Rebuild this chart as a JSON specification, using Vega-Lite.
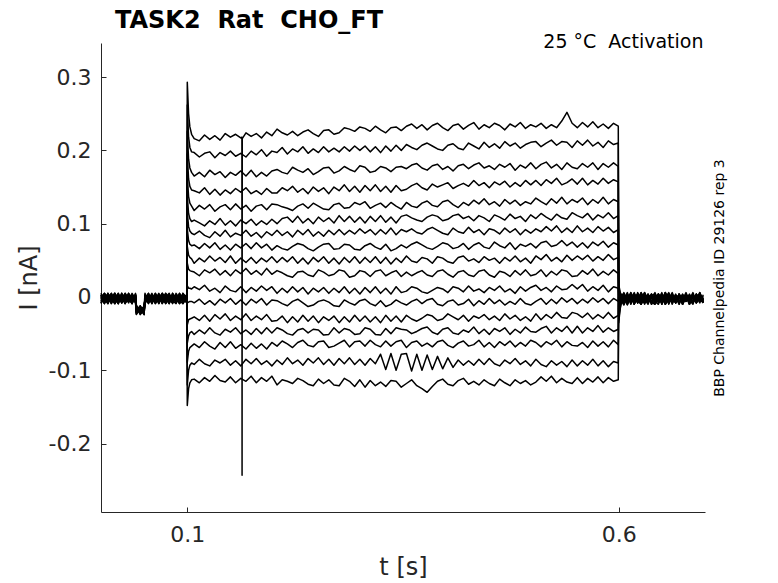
{
  "$schema": "https://vega.github.io/schema/vega-lite/v6.json",
  "width": 604,
  "height": 469,
  "autosize": {"type": "none"},
  "padding": {"left": 101, "top": 43, "right": 73, "bottom": 71},
  "config": {
    "view": {"stroke": null},
    "font": "DejaVu Sans",
    "axis": {"grid": false, "labelFont": "DejaVu Sans", "titleFont": "DejaVu Sans"}
  },
  "title": {
    "text": "TASK2 \u00a0Rat \u00a0CHO_FT",
    "anchor": "start",
    "frame": "group",
    "dx": 14,
    "fontSize": 24,
    "fontWeight": "bold",
    "color": "#000000",
    "baseline": "alphabetic",
    "offset": -20
  },
  "layer": [
    {
      "data": {
        "values": [
          {"t":0,"a":0.003,"b":-0.005,"c":0,"d":-0.008,"e":0.002,"f":-0.003,"g":0.005,"h":-0.009,"i":-0.002,"j":0,"k":-0.006,"l":0.003,"m":-0.005,"n":0.002,"o":-0.008,"p":-0.002,"q":0},
          {"t":0.004,"a":-0.006,"b":0.002,"c":-0.009,"d":0.003,"e":-0.003,"f":0.005,"g":-0.008,"h":0,"i":0.003,"j":-0.005,"k":0.002,"l":-0.008,"m":0,"n":-0.006,"o":0.003,"p":-0.009,"q":0.005},
          {"t":0.008,"a":0.002,"b":-0.008,"c":0.005,"d":-0.002,"e":-0.009,"f":0,"g":0.002,"h":-0.005,"i":-0.008,"j":0.003,"k":-0.003,"l":0,"m":-0.009,"n":0.005,"o":-0.002,"p":0.003,"q":-0.006},
          {"t":0.012,"a":-0.009,"b":0.003,"c":-0.003,"d":0.005,"e":0,"f":-0.008,"g":-0.003,"h":0.003,"i":0.002,"j":-0.009,"k":0.005,"l":-0.005,"m":0.003,"n":-0.003,"o":0,"p":-0.006,"q":0.002},
          {"t":0.016,"a":0.005,"b":-0.002,"c":0.002,"d":-0.009,"e":-0.005,"f":0.003,"g":-0.009,"h":-0.006,"i":-0.003,"j":0.002,"k":-0.008,"l":0.005,"m":-0.002,"n":-0.009,"o":0.005,"p":0,"q":-0.005},
          {"t":0.02,"a":-0.003,"b":-0.009,"c":-0.006,"d":0,"e":0.005,"f":-0.005,"g":0.003,"h":0.002,"i":-0.009,"j":-0.003,"k":0,"l":-0.009,"m":0.005,"n":0,"o":-0.006,"p":0.003,"q":-0.002},
          {"t":0.024,"a":0,"b":0.005,"c":0.003,"d":-0.005,"e":-0.008,"f":0.002,"g":-0.002,"h":-0.008,"i":0.005,"j":-0.006,"k":0.003,"l":0.002,"m":-0.006,"n":-0.005,"o":0.002,"p":-0.008,"q":0.003},
          {"t":0.028,"a":-0.008,"b":-0.003,"c":-0.008,"d":0.003,"e":0.002,"f":-0.009,"g":0.005,"h":-0.003,"i":-0.005,"j":0.005,"k":-0.009,"l":-0.003,"m":0,"n":0.003,"o":-0.009,"p":0.002,"q":-0.008},
          {"t":0.032,"a":0.003,"b":0,"c":0.002,"d":-0.006,"e":-0.003,"f":0.005,"g":-0.006,"h":0.005,"i":0,"j":-0.002,"k":0.002,"l":-0.006,"m":-0.008,"n":-0.002,"o":0.003,"p":-0.005,"q":0},
          {"t":0.036,"a":-0.005,"b":-0.006,"c":-0.005,"d":0.002,"e":-0.009,"f":-0.002,"g":0,"h":-0.009,"i":-0.006,"j":0.003,"k":-0.005,"l":0.003,"m":0.002,"n":-0.008,"o":-0.005,"p":0.005,"q":-0.009},
          {"t":0.04,"a":0.002,"b":0.003,"c":0,"d":-0.008,"e":0.003,"f":-0.006,"g":-0.005,"h":0.002,"i":0.003,"j":-0.008,"k":0,"l":-0.005,"m":-0.003,"n":0.005,"o":0,"p":-0.003,"q":0.003},
          {"t":0.041,"a":-0.012,"b":-0.02,"c":-0.015,"d":-0.023,"e":-0.011,"f":-0.018,"g":-0.021,"h":-0.014,"i":-0.024,"j":-0.017,"k":-0.012,"l":-0.02,"m":-0.015,"n":-0.023,"o":-0.014,"p":-0.018,"q":-0.021},
          {"t":0.0455,"a":-0.02,"b":-0.014,"c":-0.023,"d":-0.015,"e":-0.021,"f":-0.012,"g":-0.017,"h":-0.024,"i":-0.014,"j":-0.02,"k":-0.023,"l":-0.015,"m":-0.018,"n":-0.012,"o":-0.021,"p":-0.017,"q":-0.014},
          {"t":0.05,"a":-0.015,"b":-0.023,"c":-0.012,"d":-0.02,"e":-0.017,"f":-0.024,"g":-0.014,"h":-0.018,"i":-0.021,"j":-0.012,"k":-0.017,"l":-0.023,"m":-0.014,"n":-0.02,"o":-0.015,"p":-0.024,"q":-0.018},
          {"t":0.051,"a":-0.003,"b":0.002,"c":-0.006,"d":0,"e":-0.008,"f":0.003,"g":-0.002,"h":-0.005,"i":0.002,"j":-0.009,"k":0,"l":-0.003,"m":0.005,"n":-0.006,"o":-0.002,"p":0.002,"q":-0.008},
          {"t":0.055,"a":0.005,"b":-0.008,"c":0.002,"d":-0.005,"e":0,"f":-0.003,"g":-0.009,"h":0.003,"i":-0.006,"j":0.002,"k":-0.005,"l":0.003,"m":-0.008,"n":0,"o":0.005,"p":-0.006,"q":0},
          {"t":0.059,"a":-0.006,"b":0,"c":-0.005,"d":0.003,"e":-0.009,"f":0.005,"g":0.002,"h":-0.008,"i":0,"j":-0.005,"k":0.003,"l":-0.009,"m":0,"n":-0.003,"o":-0.008,"p":0.003,"q":-0.003},
          {"t":0.063,"a":0.002,"b":-0.005,"c":0.003,"d":-0.009,"e":0.002,"f":-0.006,"g":-0.003,"h":0,"i":-0.008,"j":0.005,"k":-0.008,"l":0.002,"m":-0.005,"n":0.003,"o":0,"p":-0.009,"q":0.005},
          {"t":0.067,"a":-0.009,"b":0.003,"c":-0.008,"d":0,"e":-0.005,"f":0.002,"g":0.005,"h":-0.006,"i":0.003,"j":-0.003,"k":0.002,"l":-0.005,"m":0.003,"n":-0.009,"o":-0.003,"p":0,"q":-0.006},
          {"t":0.071,"a":0.003,"b":-0.006,"c":0,"d":-0.003,"e":0.005,"f":-0.009,"g":-0.002,"h":0.003,"i":-0.005,"j":0,"k":-0.009,"l":0.005,"m":-0.008,"n":0.002,"o":0.005,"p":-0.005,"q":0.002},
          {"t":0.075,"a":-0.005,"b":0.002,"c":-0.009,"d":0.005,"e":-0.002,"f":0,"g":-0.008,"h":-0.003,"i":0.005,"j":-0.008,"k":0.003,"l":-0.002,"m":0,"n":-0.006,"o":-0.008,"p":0.003,"q":-0.009},
          {"t":0.079,"a":0,"b":-0.009,"c":0.003,"d":-0.006,"e":0.003,"f":-0.005,"g":0.002,"h":-0.009,"i":-0.002,"j":0.003,"k":-0.005,"l":-0.008,"m":0.005,"n":0,"o":0.002,"p":-0.008,"q":0.003},
          {"t":0.083,"a":-0.008,"b":0.005,"c":-0.003,"d":0.002,"e":-0.008,"f":0.003,"g":-0.006,"h":0.002,"i":-0.009,"j":-0.002,"k":0,"l":0.003,"m":-0.006,"n":-0.005,"o":-0.005,"p":0.005,"q":-0.003},
          {"t":0.087,"a":0.005,"b":-0.003,"c":0.002,"d":-0.008,"e":0,"f":-0.008,"g":0.003,"h":-0.005,"i":0.003,"j":-0.006,"k":-0.006,"l":-0.003,"m":0.002,"n":0.003,"o":-0.009,"p":-0.002,"q":0},
          {"t":0.091,"a":-0.002,"b":-0.008,"c":-0.006,"d":0.003,"e":-0.006,"f":0.005,"g":-0.009,"h":0,"i":-0.003,"j":0.005,"k":0.003,"l":-0.009,"m":-0.005,"n":-0.008,"o":0.003,"p":-0.006,"q":-0.008},
          {"t":0.095,"a":0.002,"b":0,"c":0.005,"d":-0.005,"e":0.003,"f":-0.002,"g":0,"h":-0.006,"i":0.002,"j":-0.009,"k":-0.003,"l":0.002,"m":-0.009,"n":0.002,"o":-0.002,"p":0.003,"q":0.005},
          {"t":0.0995,"a":-0.005,"b":-0.005,"c":-0.002,"d":0,"e":-0.003,"f":-0.006,"g":0.003,"h":0.002,"i":-0.005,"j":0,"k":-0.008,"l":-0.003,"m":0,"n":-0.006,"o":0.002,"p":-0.005,"q":-0.002},
          {"t":0.1,"a":0.293,"b":0.262,"c":0.226,"d":0.195,"e":0.165,"f":0.138,"g":0.116,"h":0.093,"i":0.069,"j":0.046,"k":0.015,"l":-0.008,"m":-0.038,"n":-0.063,"o":-0.089,"p":-0.12,"q":-0.148},
          {"t":0.1015,"a":0.25,"b":0.218,"c":0.188,"d":0.161,"e":0.137,"f":0.114,"g":0.096,"h":0.077,"i":0.057,"j":0.038,"k":0.012,"l":-0.007,"m":-0.031,"n":-0.053,"o":-0.074,"p":-0.1,"q":-0.125},
          {"t":0.103,"a":0.232,"b":0.204,"c":0.176,"d":0.151,"e":0.128,"f":0.107,"g":0.09,"h":0.072,"i":0.054,"j":0.036,"k":0.012,"l":-0.006,"m":-0.03,"n":-0.049,"o":-0.069,"p":-0.093,"q":-0.117},
          {"t":0.105,"a":0.222,"b":0.198,"c":0.17,"d":0.146,"e":0.124,"f":0.103,"g":0.087,"h":0.07,"i":0.052,"j":0.035,"k":0.011,"l":-0.006,"m":-0.029,"n":-0.047,"o":-0.067,"p":-0.09,"q":-0.113},
          {"t":0.108,"a":0.216,"b":0.197,"c":0.165,"d":0.145,"e":0.118,"f":0.105,"g":0.085,"h":0.071,"i":0.046,"j":0.034,"k":0.014,"l":-0.008,"m":-0.027,"n":-0.051,"o":-0.064,"p":-0.092,"q":-0.112},
          {"t":0.114,"a":0.213,"b":0.191,"c":0.17,"d":0.142,"e":0.125,"f":0.101,"g":0.09,"h":0.066,"i":0.053,"j":0.029,"k":0.01,"l":-0.003,"m":-0.032,"n":-0.045,"o":-0.069,"p":-0.085,"q":-0.117},
          {"t":0.12,"a":0.221,"b":0.196,"c":0.164,"d":0.149,"e":0.12,"f":0.097,"g":0.084,"h":0.073,"i":0.048,"j":0.037,"k":0.016,"l":-0.01,"m":-0.025,"n":-0.05,"o":-0.061,"p":-0.091,"q":-0.11},
          {"t":0.126,"a":0.215,"b":0.198,"c":0.173,"d":0.14,"e":0.126,"f":0.104,"g":0.081,"h":0.067,"i":0.056,"j":0.033,"k":0.008,"l":-0.005,"m":-0.033,"n":-0.042,"o":-0.067,"p":-0.094,"q":-0.115},
          {"t":0.132,"a":0.22,"b":0.19,"c":0.167,"d":0.147,"e":0.117,"f":0.099,"g":0.089,"h":0.074,"i":0.049,"j":0.038,"k":0.012,"l":-0.011,"m":-0.024,"n":-0.049,"o":-0.071,"p":-0.086,"q":-0.107},
          {"t":0.138,"a":0.214,"b":0.197,"c":0.171,"d":0.139,"e":0.123,"f":0.107,"g":0.083,"h":0.065,"i":0.054,"j":0.03,"k":0.006,"l":-0.003,"m":-0.03,"n":-0.052,"o":-0.062,"p":-0.09,"q":-0.114},
          {"t":0.144,"a":0.223,"b":0.193,"c":0.163,"d":0.146,"e":0.126,"f":0.098,"g":0.091,"h":0.071,"i":0.047,"j":0.036,"k":0.015,"l":-0.008,"m":-0.023,"n":-0.044,"o":-0.069,"p":-0.085,"q":-0.116},
          {"t":0.15,"a":0.218,"b":0.199,"c":0.17,"d":0.141,"e":0.119,"f":0.104,"g":0.082,"h":0.064,"i":0.056,"j":0.029,"k":0.009,"l":-0.002,"m":-0.032,"n":-0.048,"o":-0.061,"p":-0.093,"q":-0.109},
          {"t":0.156,"a":0.222,"b":0.192,"c":0.166,"d":0.148,"e":0.127,"f":0.097,"g":0.087,"h":0.072,"i":0.046,"j":0.037,"k":0.007,"l":-0.01,"m":-0.026,"n":-0.042,"o":-0.07,"p":-0.087,"q":-0.117},
          {"t":0.162,"a":0.217,"b":0.196,"c":0.172,"d":0.143,"e":0.12,"f":0.105,"g":0.084,"h":0.067,"i":0.053,"j":0.032,"k":0.014,"l":-0.004,"m":-0.031,"n":-0.05,"o":-0.065,"p":-0.094,"q":-0.111},
          {"t":0.1633,"a":0.218},
          {"t":0.1635,"a":-0.243},
          {"t":0.1637,"a":0.216},
          {"t":0.168,"a":0.224,"b":0.191,"c":0.165,"d":0.149,"e":0.125,"f":0.1,"g":0.091,"h":0.073,"i":0.047,"j":0.039,"k":0.006,"l":-0.011,"m":-0.023,"n":-0.045,"o":-0.071,"p":-0.085,"q":-0.115},
          {"t":0.174,"a":0.219,"b":0.199,"c":0.173,"d":0.141,"e":0.117,"f":0.106,"g":0.083,"h":0.066,"i":0.054,"j":0.031,"k":0.013,"l":-0.003,"m":-0.032,"n":-0.051,"o":-0.063,"p":-0.091,"q":-0.108},
          {"t":0.18,"a":0.223,"b":0.194,"c":0.164,"d":0.145,"e":0.124,"f":0.098,"g":0.088,"h":0.074,"i":0.046,"j":0.036,"k":0.008,"l":-0.008,"m":-0.026,"n":-0.043,"o":-0.07,"p":-0.084,"q":-0.117},
          {"t":0.186,"a":0.217,"b":0.201,"c":0.17,"d":0.14,"e":0.126,"f":0.104,"g":0.081,"h":0.067,"i":0.053,"j":0.03,"k":0.015,"l":-0.002,"m":-0.031,"n":-0.05,"o":-0.064,"p":-0.092,"q":-0.11},
          {"t":0.192,"a":0.225,"b":0.192,"c":0.165,"d":0.148,"e":0.119,"f":0.099,"g":0.089,"h":0.072,"i":0.048,"j":0.039,"k":0.009,"l":-0.011,"m":-0.024,"n":-0.042,"o":-0.071,"p":-0.087,"q":-0.115},
          {"t":0.198,"a":0.22,"b":0.199,"c":0.172,"d":0.142,"e":0.127,"f":0.106,"g":0.084,"h":0.064,"i":0.055,"j":0.031,"k":0.014,"l":-0.004,"m":-0.033,"n":-0.049,"o":-0.062,"p":-0.094,"q":-0.108},
          {"t":0.204,"a":0.229,"b":0.197,"c":0.174,"d":0.142,"e":0.126,"f":0.1,"g":0.091,"h":0.07,"i":0.047,"j":0.036,"k":0.005,"l":-0.005,"m":-0.032,"n":-0.042,"o":-0.067,"p":-0.086,"q":-0.12},
          {"t":0.21,"a":0.224,"b":0.204,"c":0.17,"d":0.149,"e":0.123,"f":0.107,"g":0.084,"h":0.066,"i":0.054,"j":0.033,"k":0.012,"l":-0.009,"m":-0.026,"n":-0.045,"o":-0.06,"p":-0.092,"q":-0.113},
          {"t":0.216,"a":0.221,"b":0.195,"c":0.168,"d":0.145,"e":0.121,"f":0.109,"g":0.089,"h":0.064,"i":0.048,"j":0.029,"k":0.006,"l":-0.012,"m":-0.035,"n":-0.05,"o":-0.064,"p":-0.083,"q":-0.115},
          {"t":0.222,"a":0.226,"b":0.202,"c":0.177,"d":0.151,"e":0.118,"f":0.102,"g":0.082,"h":0.069,"i":0.055,"j":0.027,"k":0.014,"l":-0.006,"m":-0.027,"n":-0.052,"o":-0.069,"p":-0.091,"q":-0.118},
          {"t":0.228,"a":0.22,"b":0.198,"c":0.173,"d":0.143,"e":0.124,"f":0.11,"g":0.091,"h":0.073,"i":0.046,"j":0.034,"k":0.007,"l":-0.003,"m":-0.034,"n":-0.045,"o":-0.062,"p":-0.086,"q":-0.111},
          {"t":0.234,"a":0.225,"b":0.205,"c":0.17,"d":0.148,"e":0.127,"f":0.101,"g":0.085,"h":0.071,"i":0.053,"j":0.035,"k":0.013,"l":-0.008,"m":-0.025,"n":-0.043,"o":-0.059,"p":-0.093,"q":-0.114},
          {"t":0.24,"a":0.228,"b":0.196,"c":0.175,"d":0.141,"e":0.121,"f":0.107,"g":0.092,"h":0.066,"i":0.045,"j":0.03,"k":0.004,"l":-0.013,"m":-0.033,"n":-0.049,"o":-0.066,"p":-0.084,"q":-0.119},
          {"t":0.246,"a":0.223,"b":0.202,"c":0.167,"d":0.15,"e":0.128,"f":0.1,"g":0.083,"h":0.063,"i":0.054,"j":0.028,"k":0.012,"l":-0.011,"m":-0.026,"n":-0.044,"o":-0.068,"p":-0.09,"q":-0.121},
          {"t":0.252,"a":0.219,"b":0.197,"c":0.171,"d":0.144,"e":0.124,"f":0.109,"g":0.089,"h":0.068,"i":0.048,"j":0.037,"k":0.007,"l":-0.006,"m":-0.035,"n":-0.045,"o":-0.061,"p":-0.083,"q":-0.112},
          {"t":0.258,"a":0.227,"b":0.205,"c":0.176,"d":0.149,"e":0.12,"f":0.103,"g":0.083,"h":0.072,"i":0.055,"j":0.034,"k":0.013,"l":-0.004,"m":-0.027,"n":-0.052,"o":-0.06,"p":-0.092,"q":-0.118},
          {"t":0.264,"a":0.228,"b":0.198,"c":0.177,"d":0.141,"e":0.119,"f":0.108,"g":0.091,"h":0.073,"i":0.046,"j":0.029,"k":0.005,"l":-0.007,"m":-0.032,"n":-0.051,"o":-0.069,"p":-0.085,"q":-0.113},
          {"t":0.27,"a":0.222,"b":0.203,"c":0.169,"d":0.15,"e":0.126,"f":0.101,"g":0.085,"h":0.065,"i":0.053,"j":0.031,"k":0.012,"l":-0.012,"m":-0.026,"n":-0.042,"o":-0.067,"p":-0.093,"q":-0.12},
          {"t":0.276,"a":0.224,"b":0.198,"c":0.172,"d":0.145,"e":0.128,"f":0.111,"g":0.092,"h":0.066,"i":0.045,"j":0.037,"k":0.006,"l":-0.013,"m":-0.035,"n":-0.049,"o":-0.063,"p":-0.084,"q":-0.121},
          {"t":0.282,"a":0.231,"b":0.205,"c":0.178,"d":0.153,"e":0.121,"f":0.103,"g":0.085,"h":0.072,"i":0.054,"j":0.035,"k":0.014,"l":-0.004,"m":-0.027,"n":-0.043,"o":-0.059,"p":-0.091,"q":-0.111},
          {"t":0.288,"a":0.229,"b":0.199,"c":0.174,"d":0.144,"e":0.122,"f":0.11,"g":0.091,"h":0.071,"i":0.047,"j":0.027,"k":0.005,"l":-0.008,"m":-0.034,"n":-0.045,"o":-0.068,"p":-0.083,"q":-0.115},
          {"t":0.294,"a":0.226,"b":0.206,"c":0.171,"d":0.151,"e":0.129,"f":0.102,"g":0.086,"h":0.065,"i":0.055,"j":0.029,"k":0.012,"l":-0.011,"m":-0.025,"n":-0.051,"o":-0.061,"p":-0.092,"q":-0.122},
          {"t":0.3,"a":0.232,"b":0.2,"c":0.179,"d":0.143,"e":0.126,"f":0.109,"g":0.093,"h":0.064,"i":0.046,"j":0.036,"k":0.004,"l":-0.005,"m":-0.033,"n":-0.05,"o":-0.06,"p":-0.085,"q":-0.113},
          {"t":0.306,"a":0.23,"b":0.206,"c":0.177,"d":0.152,"e":0.13,"f":0.101,"g":0.087,"h":0.07,"i":0.054,"j":0.034,"k":0.013,"l":-0.003,"m":-0.026,"n":-0.042,"o":-0.067,"p":-0.093,"q":-0.123},
          {"t":0.312,"a":0.226,"b":0.198,"c":0.17,"d":0.145,"e":0.121,"f":0.11,"g":0.092,"h":0.073,"i":0.047,"j":0.028,"k":0.006,"l":-0.009,"m":-0.034,"n":-0.044,"o":-0.059,"p":-0.084,"q":-0.114},
          {"t":0.318,"a":0.233,"b":0.205,"c":0.172,"d":0.153,"e":0.125,"f":0.103,"g":0.085,"h":0.068,"i":0.055,"j":0.035,"k":0.014,"l":-0.012,"m":-0.027,"n":-0.051,"o":-0.065,"p":-0.091,"q":-0.121},
          {"t":0.324,"a":0.228,"b":0.197,"c":0.178,"d":0.144,"e":0.128,"f":0.111,"g":0.092,"h":0.065,"i":0.046,"j":0.037,"k":0.005,"l":-0.005,"m":-0.035,"n":-0.052,"o":-0.068,"p":-0.078,"q":-0.116},
          {"t":0.33,"a":0.224,"b":0.206,"c":0.176,"d":0.151,"e":0.122,"f":0.102,"g":0.086,"h":0.072,"i":0.054,"j":0.029,"k":0.012,"l":-0.013,"m":-0.025,"n":-0.043,"o":-0.06,"p":-0.099,"q":-0.122},
          {"t":0.336,"a":0.231,"b":0.199,"c":0.171,"d":0.143,"e":0.129,"f":0.109,"g":0.094,"h":0.063,"i":0.045,"j":0.033,"k":0.004,"l":-0.01,"m":-0.033,"n":-0.05,"o":-0.067,"p":-0.077,"q":-0.114},
          {"t":0.342,"a":0.232,"b":0.207,"c":0.177,"d":0.152,"e":0.124,"f":0.101,"g":0.085,"h":0.066,"i":0.053,"j":0.036,"k":0.014,"l":-0.004,"m":-0.026,"n":-0.042,"o":-0.061,"p":-0.1,"q":-0.115},
          {"t":0.348,"a":0.227,"b":0.2,"c":0.178,"d":0.145,"e":0.12,"f":0.11,"g":0.092,"h":0.071,"i":0.047,"j":0.028,"k":0.006,"l":-0.008,"m":-0.034,"n":-0.044,"o":-0.059,"p":-0.078,"q":-0.123},
          {"t":0.354,"a":0.233,"b":0.208,"c":0.175,"d":0.147,"e":0.129,"f":0.112,"g":0.089,"h":0.067,"i":0.056,"j":0.034,"k":0.008,"l":-0.011,"m":-0.025,"n":-0.045,"o":-0.069,"p":-0.077,"q":-0.118},
          {"t":0.36,"a":0.236,"b":0.204,"c":0.18,"d":0.152,"e":0.124,"f":0.108,"g":0.093,"h":0.072,"i":0.049,"j":0.029,"k":0.014,"l":-0.006,"m":-0.03,"n":-0.05,"o":-0.062,"p":-0.101,"q":-0.113},
          {"t":0.366,"a":0.23,"b":0.201,"c":0.182,"d":0.155,"e":0.122,"f":0.105,"g":0.088,"h":0.075,"i":0.047,"j":0.033,"k":0.012,"l":-0.003,"m":-0.033,"n":-0.047,"o":-0.06,"p":-0.078,"q":-0.121},
          {"t":0.372,"a":0.235,"b":0.207,"c":0.176,"d":0.149,"e":0.128,"f":0.103,"g":0.086,"h":0.071,"i":0.054,"j":0.036,"k":0.007,"l":-0.009,"m":-0.029,"n":-0.043,"o":-0.067,"p":-0.1,"q":-0.125},
          {"t":0.378,"a":0.228,"b":0.21,"c":0.173,"d":0.146,"e":0.131,"f":0.109,"g":0.092,"h":0.067,"i":0.052,"j":0.03,"k":0.005,"l":-0.004,"m":-0.024,"n":-0.041,"o":-0.063,"p":-0.079,"q":-0.13},
          {"t":0.384,"a":0.234,"b":0.206,"c":0.179,"d":0.154,"e":0.125,"f":0.112,"g":0.095,"h":0.065,"i":0.046,"j":0.028,"k":0.009,"l":-0.002,"m":-0.026,"n":-0.048,"o":-0.068,"p":-0.099,"q":-0.122},
          {"t":0.39,"a":0.237,"b":0.202,"c":0.181,"d":0.15,"e":0.123,"f":0.11,"g":0.091,"h":0.069,"i":0.055,"j":0.035,"k":0.013,"l":-0.01,"m":-0.032,"n":-0.051,"o":-0.061,"p":-0.081,"q":-0.115},
          {"t":0.396,"a":0.231,"b":0.2,"c":0.174,"d":0.153,"e":0.13,"f":0.104,"g":0.087,"h":0.074,"i":0.053,"j":0.037,"k":0.011,"l":-0.012,"m":-0.03,"n":-0.044,"o":-0.059,"p":-0.098,"q":-0.112},
          {"t":0.402,"a":0.227,"b":0.207,"c":0.178,"d":0.156,"e":0.132,"f":0.106,"g":0.085,"h":0.072,"i":0.048,"j":0.031,"k":0.006,"l":-0.006,"m":-0.023,"n":-0.042,"o":-0.066,"p":-0.083,"q":-0.119},
          {"t":0.408,"a":0.234,"b":0.209,"c":0.172,"d":0.148,"e":0.126,"f":0.111,"g":0.094,"h":0.066,"i":0.046,"j":0.027,"k":0.014,"l":-0.004,"m":-0.027,"n":-0.049,"o":-0.069,"p":-0.096,"q":-0.121},
          {"t":0.414,"a":0.236,"b":0.203,"c":0.179,"d":0.152,"e":0.122,"f":0.113,"g":0.089,"h":0.068,"i":0.054,"j":0.034,"k":0.012,"l":-0.011,"m":-0.031,"n":-0.051,"o":-0.063,"p":-0.086,"q":-0.114},
          {"t":0.42,"a":0.229,"b":0.201,"c":0.181,"d":0.155,"e":0.129,"f":0.107,"g":0.087,"h":0.073,"i":0.056,"j":0.036,"k":0.007,"l":-0.009,"m":-0.025,"n":-0.045,"o":-0.06,"p":-0.093,"q":-0.111},
          {"t":0.426,"a":0.234,"b":0.21,"c":0.175,"d":0.151,"e":0.125,"f":0.11,"g":0.095,"h":0.065,"i":0.049,"j":0.03,"k":0.015,"l":-0.003,"m":-0.033,"n":-0.048,"o":-0.067,"p":-0.087,"q":-0.119},
          {"t":0.432,"a":0.238,"b":0.206,"c":0.18,"d":0.159,"e":0.132,"f":0.104,"g":0.088,"h":0.071,"i":0.052,"j":0.028,"k":0.008,"l":-0.012,"m":-0.026,"n":-0.041,"o":-0.065,"p":-0.093,"q":-0.115},
          {"t":0.438,"a":0.229,"b":0.202,"c":0.183,"d":0.152,"e":0.127,"f":0.111,"g":0.092,"h":0.074,"i":0.047,"j":0.035,"k":0.011,"l":-0.005,"m":-0.029,"n":-0.05,"o":-0.059,"p":-0.085,"q":-0.12},
          {"t":0.444,"a":0.235,"b":0.211,"c":0.176,"d":0.156,"e":0.134,"f":0.108,"g":0.085,"h":0.068,"i":0.055,"j":0.037,"k":0.006,"l":-0.01,"m":-0.024,"n":-0.044,"o":-0.068,"p":-0.092,"q":-0.113},
          {"t":0.45,"a":0.231,"b":0.204,"c":0.179,"d":0.149,"e":0.126,"f":0.103,"g":0.093,"h":0.066,"i":0.05,"j":0.03,"k":0.013,"l":-0.002,"m":-0.031,"n":-0.051,"o":-0.062,"p":-0.084,"q":-0.118},
          {"t":0.456,"a":0.237,"b":0.209,"c":0.174,"d":0.157,"e":0.13,"f":0.112,"g":0.091,"h":0.075,"i":0.053,"j":0.027,"k":0.009,"l":-0.009,"m":-0.026,"n":-0.043,"o":-0.069,"p":-0.091,"q":-0.121},
          {"t":0.462,"a":0.234,"b":0.203,"c":0.181,"d":0.153,"e":0.124,"f":0.109,"g":0.086,"h":0.07,"i":0.046,"j":0.035,"k":0.015,"l":-0.004,"m":-0.032,"n":-0.047,"o":-0.061,"p":-0.094,"q":-0.112},
          {"t":0.468,"a":0.228,"b":0.212,"c":0.177,"d":0.158,"e":0.133,"f":0.105,"g":0.094,"h":0.067,"i":0.054,"j":0.033,"k":0.007,"l":-0.011,"m":-0.023,"n":-0.042,"o":-0.066,"p":-0.086,"q":-0.117},
          {"t":0.474,"a":0.236,"b":0.206,"c":0.182,"d":0.15,"e":0.127,"f":0.113,"g":0.088,"h":0.074,"i":0.049,"j":0.028,"k":0.011,"l":-0.006,"m":-0.03,"n":-0.051,"o":-0.06,"p":-0.091,"q":-0.121},
          {"t":0.48,"a":0.232,"b":0.21,"c":0.173,"d":0.156,"e":0.132,"f":0.107,"g":0.093,"h":0.065,"i":0.056,"j":0.036,"k":0.005,"l":-0.01,"m":-0.025,"n":-0.044,"o":-0.068,"p":-0.084,"q":-0.113},
          {"t":0.486,"a":0.238,"b":0.203,"c":0.18,"d":0.151,"e":0.125,"f":0.11,"g":0.085,"h":0.072,"i":0.048,"j":0.03,"k":0.014,"l":-0.002,"m":-0.032,"n":-0.049,"o":-0.062,"p":-0.092,"q":-0.118},
          {"t":0.492,"a":0.23,"b":0.208,"c":0.176,"d":0.159,"e":0.13,"f":0.103,"g":0.092,"h":0.069,"i":0.053,"j":0.037,"k":0.008,"l":-0.009,"m":-0.027,"n":-0.041,"o":-0.067,"p":-0.087,"q":-0.114},
          {"t":0.498,"a":0.235,"b":0.211,"c":0.183,"d":0.153,"e":0.127,"f":0.112,"g":0.087,"h":0.073,"i":0.046,"j":0.029,"k":0.013,"l":-0.011,"m":-0.033,"n":-0.047,"o":-0.059,"p":-0.094,"q":-0.12},
          {"t":0.504,"a":0.232,"b":0.212,"c":0.175,"d":0.159,"e":0.135,"f":0.107,"g":0.093,"h":0.067,"i":0.056,"j":0.031,"k":0.016,"l":-0.006,"m":-0.023,"n":-0.048,"o":-0.062,"p":-0.085,"q":-0.116},
          {"t":0.51,"a":0.237,"b":0.205,"c":0.181,"d":0.152,"e":0.13,"f":0.114,"g":0.089,"h":0.074,"i":0.051,"j":0.037,"k":0.009,"l":-0.002,"m":-0.031,"n":-0.043,"o":-0.068,"p":-0.092,"q":-0.109},
          {"t":0.516,"a":0.23,"b":0.21,"c":0.184,"d":0.16,"e":0.126,"f":0.109,"g":0.096,"h":0.076,"i":0.058,"j":0.028,"k":0.013,"l":-0.01,"m":-0.024,"n":-0.04,"o":-0.061,"p":-0.095,"q":-0.115},
          {"t":0.522,"a":0.235,"b":0.214,"c":0.176,"d":0.155,"e":0.134,"f":0.105,"g":0.09,"h":0.069,"i":0.049,"j":0.035,"k":0.007,"l":-0.003,"m":-0.029,"n":-0.049,"o":-0.065,"p":-0.087,"q":-0.108},
          {"t":0.528,"a":0.231,"b":0.207,"c":0.181,"d":0.162,"e":0.128,"f":0.113,"g":0.097,"h":0.071,"i":0.054,"j":0.03,"k":0.015,"l":-0.009,"m":-0.021,"n":-0.042,"o":-0.059,"p":-0.093,"q":-0.117},
          {"t":0.534,"a":0.24,"b":0.212,"c":0.174,"d":0.153,"e":0.136,"f":0.108,"g":0.088,"h":0.077,"i":0.048,"j":0.037,"k":0.01,"l":-0.001,"m":-0.028,"n":-0.047,"o":-0.068,"p":-0.088,"q":-0.111},
          {"t":0.54,"a":0.252,"b":0.211,"c":0.183,"d":0.156,"e":0.127,"f":0.106,"g":0.094,"h":0.07,"i":0.057,"j":0.035,"k":0.011,"l":-0.007,"m":-0.029,"n":-0.04,"o":-0.061,"p":-0.095,"q":-0.116},
          {"t":0.546,"a":0.237,"b":0.204,"c":0.177,"d":0.161,"e":0.133,"f":0.115,"g":0.088,"h":0.075,"i":0.05,"j":0.028,"k":0.017,"l":-0.002,"m":-0.021,"n":-0.049,"o":-0.066,"p":-0.086,"q":-0.118},
          {"t":0.552,"a":0.231,"b":0.213,"c":0.175,"d":0.154,"e":0.129,"f":0.111,"g":0.097,"h":0.068,"i":0.056,"j":0.029,"k":0.011,"l":-0.009,"m":-0.023,"n":-0.04,"o":-0.067,"p":-0.094,"q":-0.11},
          {"t":0.558,"a":0.238,"b":0.207,"c":0.182,"d":0.162,"e":0.135,"f":0.108,"g":0.089,"h":0.074,"i":0.051,"j":0.036,"k":0.017,"l":-0.003,"m":-0.028,"n":-0.049,"o":-0.062,"p":-0.087,"q":-0.118},
          {"t":0.564,"a":0.232,"b":0.214,"c":0.177,"d":0.153,"e":0.126,"f":0.114,"g":0.094,"h":0.067,"i":0.057,"j":0.031,"k":0.008,"l":-0.008,"m":-0.022,"n":-0.042,"o":-0.069,"p":-0.093,"q":-0.111},
          {"t":0.57,"a":0.239,"b":0.206,"c":0.183,"d":0.159,"e":0.133,"f":0.105,"g":0.088,"h":0.075,"i":0.049,"j":0.038,"k":0.014,"l":-0.001,"m":-0.03,"n":-0.047,"o":-0.06,"p":-0.085,"q":-0.116},
          {"t":0.576,"a":0.231,"b":0.211,"c":0.174,"d":0.154,"e":0.128,"f":0.112,"g":0.096,"h":0.07,"i":0.055,"j":0.029,"k":0.009,"l":-0.007,"m":-0.024,"n":-0.039,"o":-0.067,"p":-0.094,"q":-0.109},
          {"t":0.582,"a":0.236,"b":0.204,"c":0.182,"d":0.162,"e":0.136,"f":0.108,"g":0.09,"h":0.076,"i":0.05,"j":0.035,"k":0.016,"l":-0.002,"m":-0.029,"n":-0.048,"o":-0.061,"p":-0.087,"q":-0.117},
          {"t":0.588,"a":0.23,"b":0.213,"c":0.177,"d":0.155,"e":0.127,"f":0.115,"g":0.095,"h":0.068,"i":0.058,"j":0.03,"k":0.007,"l":-0.009,"m":-0.021,"n":-0.042,"o":-0.068,"p":-0.095,"q":-0.11},
          {"t":0.594,"a":0.237,"b":0.208,"c":0.183,"d":0.16,"e":0.133,"f":0.107,"g":0.088,"h":0.074,"i":0.051,"j":0.037,"k":0.014,"l":-0.002,"m":-0.029,"n":-0.047,"o":-0.059,"p":-0.088,"q":-0.115},
          {"t":0.5995,"a":0.233,"b":0.21,"c":0.178,"d":0.157,"e":0.13,"f":0.111,"g":0.092,"h":0.071,"i":0.054,"j":0.032,"k":0.012,"l":-0.006,"m":-0.025,"n":-0.044,"o":-0.065,"p":-0.09,"q":-0.113},
          {"t":0.6,"a":-0.035,"b":-0.031,"c":-0.027,"d":-0.024,"e":-0.02,"f":-0.017,"g":-0.014,"h":-0.011,"i":-0.008,"j":-0.005,"k":-0.002,"l":0.001,"m":0.004,"n":0.007,"o":0.01,"p":0.013,"q":0.017},
          {"t":0.6015,"a":-0.018,"b":-0.016,"c":-0.013,"d":-0.012,"e":-0.01,"f":-0.009,"g":-0.007,"h":-0.006,"i":-0.004,"j":-0.003,"k":-0.001,"l":0,"m":0.002,"n":0.003,"o":0.005,"p":0.006,"q":0.008},
          {"t":0.603,"a":-0.008,"b":-0.006,"c":-0.007,"d":-0.004,"e":-0.005,"f":-0.002,"g":-0.004,"h":-0.001,"i":-0.003,"j":0,"k":-0.002,"l":0.001,"m":-0.001,"n":0.002,"o":0,"p":0.003,"q":0.001},
          {"t":0.606,"a":0.004,"b":-0.008,"c":0.001,"d":-0.006,"e":-0.011,"f":0.003,"g":-0.003,"h":-0.007,"i":0.006,"j":-0.01,"k":0,"l":-0.004,"m":0.003,"n":-0.008,"o":-0.001,"p":0.004,"q":-0.006},
          {"t":0.61,"a":-0.007,"b":0.003,"c":-0.01,"d":0.004,"e":0,"f":-0.008,"g":0.006,"h":-0.001,"i":-0.006,"j":0.001,"k":-0.011,"l":0.003,"m":-0.007,"n":0.001,"o":-0.004,"p":-0.01,"q":0.003},
          {"t":0.614,"a":0.003,"b":-0.004,"c":0.006,"d":-0.01,"e":-0.003,"f":0.001,"g":-0.008,"h":0.004,"i":-0.003,"j":-0.007,"k":0.003,"l":-0.008,"m":0.004,"n":-0.006,"o":0.006,"p":-0.001,"q":-0.008},
          {"t":0.618,"a":-0.01,"b":0.006,"c":-0.003,"d":0,"e":0.004,"f":-0.007,"g":0.001,"h":-0.01,"i":0.004,"j":0.003,"k":-0.006,"l":0,"m":-0.01,"n":0.004,"o":-0.007,"p":0.003,"q":0.001},
          {"t":0.622,"a":0.001,"b":-0.007,"c":0.004,"d":-0.004,"e":-0.008,"f":0.006,"g":-0.004,"h":0.003,"i":-0.008,"j":-0.003,"k":0.004,"l":-0.007,"m":0.001,"n":-0.003,"o":0.003,"p":-0.008,"q":-0.004},
          {"t":0.626,"a":-0.004,"b":0.001,"c":-0.008,"d":0.006,"e":0.001,"f":-0.003,"g":-0.01,"h":-0.004,"i":0.001,"j":-0.008,"k":-0.001,"l":0.004,"m":-0.004,"n":-0.01,"o":-0.001,"p":0.006,"q":-0.01},
          {"t":0.63,"a":0.006,"b":-0.01,"c":0,"d":-0.007,"e":-0.006,"f":-0.008,"g":0.003,"h":0,"i":-0.007,"j":0.004,"k":-0.008,"l":-0.003,"m":0.006,"n":0,"o":-0.008,"p":-0.004,"q":0.004},
          {"t":0.634,"a":-0.008,"b":0.003,"c":-0.006,"d":0.001,"e":0.004,"f":0.003,"g":-0.006,"h":-0.008,"i":0.003,"j":-0.004,"k":0.001,"l":-0.01,"m":-0.003,"n":-0.007,"o":0.004,"p":-0.007,"q":-0.003},
          {"t":0.638,"a":0,"b":-0.006,"c":0.004,"d":-0.008,"e":-0.01,"f":-0.001,"g":0.004,"h":0.003,"i":-0.01,"j":-0.001,"k":-0.006,"l":0.003,"m":-0.008,"n":0.004,"o":-0.006,"p":0.001,"q":-0.007},
          {"t":0.642,"a":-0.006,"b":0.004,"c":-0.007,"d":0.003,"e":0.003,"f":-0.007,"g":-0.007,"h":-0.006,"i":0,"j":0.006,"k":-0.01,"l":-0.006,"m":0.001,"n":-0.004,"o":-0.01,"p":-0.008,"q":0.003},
          {"t":0.646,"a":0.004,"b":-0.003,"c":0.001,"d":-0.004,"e":-0.004,"f":0.004,"g":0,"h":-0.01,"i":0.004,"j":-0.007,"k":0.003,"l":0.001,"m":-0.006,"n":0.003,"o":0.001,"p":0.004,"q":-0.008},
          {"t":0.65,"a":-0.01,"b":-0.007,"c":-0.004,"d":0.006,"e":-0.001,"f":-0.01,"g":-0.008,"h":0.001,"i":-0.006,"j":0.001,"k":-0.004,"l":-0.008,"m":0.004,"n":-0.008,"o":-0.004,"p":-0.006,"q":0},
          {"t":0.654,"a":0.003,"b":0.001,"c":0.006,"d":-0.01,"e":-0.008,"f":0,"g":0.006,"h":-0.004,"i":0.003,"j":-0.01,"k":0,"l":0.004,"m":-0.01,"n":-0.001,"o":0.006,"p":0.003,"q":-0.006},
          {"t":0.658,"a":-0.003,"b":-0.008,"c":-0.008,"d":0.001,"e":0.004,"f":-0.006,"g":-0.003,"h":0.004,"i":-0.008,"j":-0.003,"k":-0.007,"l":-0.007,"m":0,"n":0.006,"o":-0.007,"p":-0.01,"q":0.004},
          {"t":0.662,"a":0.006,"b":0.004,"c":0,"d":-0.006,"e":-0.007,"f":0.003,"g":0.001,"h":-0.008,"i":0.001,"j":0.004,"k":0.003,"l":0,"m":-0.004,"n":-0.006,"o":0,"p":0.001,"q":-0.01},
          {"t":0.666,"a":-0.007,"b":-0.006,"c":-0.006,"d":0.004,"e":0.001,"f":-0.008,"g":-0.007,"h":0,"i":-0.007,"j":-0.008,"k":-0.008,"l":-0.004,"m":0.003,"n":0.001,"o":-0.008,"p":-0.006,"q":0.001},
          {"t":0.67,"a":0.001,"b":0.003,"c":0.004,"d":-0.008,"e":-0.01,"f":0.001,"g":0.004,"h":-0.007,"i":0.004,"j":0,"k":0.001,"l":0.003,"m":-0.008,"n":-0.01,"o":0.003,"p":0.004,"q":-0.004},
          {"t":0.674,"a":-0.008,"b":-0.01,"c":-0.003,"d":0,"e":0.003,"f":-0.004,"g":-0.01,"h":0.003,"i":-0.004,"j":-0.006,"k":-0.006,"l":-0.01,"m":0.004,"n":0.003,"o":-0.006,"p":-0.008,"q":-0.008},
          {"t":0.678,"a":0.004,"b":0,"c":0.003,"d":-0.004,"e":-0.006,"f":0.006,"g":0,"h":-0.006,"i":0,"j":0.003,"k":0.004,"l":0.001,"m":-0.006,"n":-0.004,"o":0.004,"p":0,"q":0.003},
          {"t":0.682,"a":-0.004,"b":-0.006,"c":-0.01,"d":0.003,"e":0.001,"f":-0.007,"g":-0.006,"h":0.001,"i":-0.01,"j":-0.008,"k":-0.004,"l":-0.006,"m":0.001,"n":0.004,"o":-0.01,"p":-0.004,"q":-0.006},
          {"t":0.686,"a":0.003,"b":0.004,"c":0.001,"d":-0.007,"e":-0.008,"f":0,"g":0.003,"h":-0.008,"i":0.003,"j":0.001,"k":-0.01,"l":0.004,"m":-0.008,"n":-0.007,"o":0.001,"p":0.006,"q":0.001},
          {"t":0.69,"a":-0.006,"b":-0.008,"c":-0.004,"d":0.004,"e":0.004,"f":-0.008,"g":-0.007,"h":0.004,"i":-0.006,"j":-0.004,"k":0.003,"l":-0.008,"m":0.003,"n":0,"o":-0.003,"p":-0.007,"q":-0.007},
          {"t":0.694,"a":0.001,"b":0.003,"c":0.006,"d":-0.006,"e":-0.003,"f":0.003,"g":0.004,"h":-0.004,"i":0.001,"j":0.006,"k":-0.003,"l":0,"m":-0.006,"n":-0.008,"o":0.004,"p":0.003,"q":0.004},
          {"t":0.698,"a":-0.007,"b":-0.004,"c":-0.006,"d":0.001,"e":-0.008,"f":-0.004,"g":-0.004,"h":-0.001,"i":-0.007,"j":-0.008,"k":-0.007,"l":-0.004,"m":-0.001,"n":0.003,"o":-0.006,"p":-0.008,"q":-0.003}
        ]
      },
      "transform": [
        {"fold": ["a", "b", "c", "d", "e", "f", "g", "h", "i", "j", "k", "l", "m", "n", "o", "p", "q"], "as": ["trace", "I"]},
        {"filter": "isValid(datum.I)"}
      ],
      "mark": {"type": "line", "color": "#000000", "strokeWidth": 1.5, "strokeJoin": "round"},
      "encoding": {
        "x": {
          "field": "t",
          "type": "quantitative",
          "scale": {"domain": [0, 0.7], "nice": false, "zero": false},
          "axis": {
            "orient": "bottom",
            "values": [0.1, 0.6],
            "labelExpr": "'' + datum.value",
            "domainColor": "#262626",
            "tickColor": "#262626",
            "tickSize": -5,
            "labelFontSize": 22,
            "labelColor": "#262626",
            "labelPadding": 17,
            "title": "t [s]",
            "titleFontSize": 24,
            "titleFontWeight": "normal",
            "titleColor": "#262626",
            "titleY": 62,
            "titleBaseline": "alphabetic"
          }
        },
        "y": {
          "field": "I",
          "type": "quantitative",
          "scale": {"domain": [-0.2933, 0.3465], "nice": false, "zero": false},
          "axis": {
            "orient": "left",
            "values": [-0.2, -0.1, 0, 0.1, 0.2, 0.3],
            "labelExpr": "'' + datum.value",
            "domainColor": "#262626",
            "tickColor": "#262626",
            "tickSize": -5,
            "labelFontSize": 22,
            "labelColor": "#262626",
            "labelPadding": 15,
            "title": "I [nA]",
            "titleFontSize": 24,
            "titleFontWeight": "normal",
            "titleColor": "#262626",
            "titleAngle": -90,
            "titleX": -65,
            "titleY": 234.5,
            "titleAlign": "center",
            "titleBaseline": "alphabetic"
          }
        },
        "detail": {"field": "trace", "type": "nominal"}
      }
    },
    {
      "data": {"values": [{"t": 0.35, "I": 0}]},
      "mark": {"type": "point", "opacity": 0},
      "encoding": {
        "x": {
          "field": "t",
          "type": "quantitative",
          "scale": {"domain": [0, 0.7], "nice": false, "zero": false},
          "axis": {
            "orient": "top",
            "domain": false,
            "ticks": false,
            "labels": false,
            "title": "25 °C \u00a0Activation",
            "titleFontSize": 19,
            "titleFontWeight": "normal",
            "titleColor": "#000000",
            "titleX": 602,
            "titleY": 4,
            "titleAlign": "right",
            "titleBaseline": "alphabetic"
          }
        },
        "y": {
          "field": "I",
          "type": "quantitative",
          "scale": {"domain": [-0.2933, 0.3465], "nice": false, "zero": false},
          "axis": {
            "orient": "right",
            "domain": false,
            "ticks": false,
            "labels": false,
            "title": "BBP Channelpedia ID 29126 rep 3",
            "titleFontSize": 14,
            "titleFontWeight": "normal",
            "titleColor": "#000000",
            "titleAngle": -90,
            "titleX": 18,
            "titleY": 234.5,
            "titleAlign": "center",
            "titleBaseline": "alphabetic"
          }
        }
      }
    }
  ],
  "resolve": {"axis": {"x": "independent", "y": "independent"}}
}
